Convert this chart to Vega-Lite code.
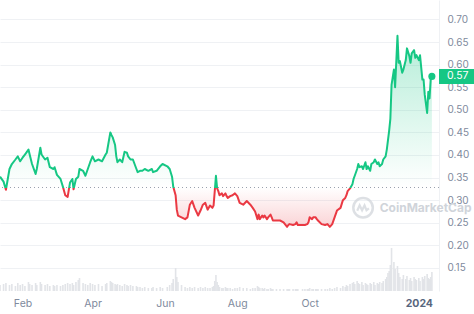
{
  "$schema": "https://vega.github.io/schema/vega-lite/v6.json",
  "width": 439,
  "height": 291,
  "autosize": "none",
  "padding": {"left": 0, "top": 0, "right": 35, "bottom": 23},
  "background": "white",
  "config": {"view": {"stroke": null}, "font": "Inter", "axis": {"labelFont": "Inter"}},
  "datasets": {
    "prices": [
      {"date": "2023-01-13", "price": 0.352, "vol": 6},
      {"date": "2023-01-16", "price": 0.341, "vol": 7},
      {"date": "2023-01-18", "price": 0.323, "vol": 8},
      {"date": "2023-01-21", "price": 0.369, "vol": 6},
      {"date": "2023-01-23", "price": 0.380, "vol": 7},
      {"date": "2023-01-26", "price": 0.390, "vol": 5},
      {"date": "2023-01-28", "price": 0.397, "vol": 8},
      {"date": "2023-01-30", "price": 0.386, "vol": 6},
      {"date": "2023-02-01", "price": 0.394, "vol": 7},
      {"date": "2023-02-03", "price": 0.401, "vol": 5},
      {"date": "2023-02-06", "price": 0.412, "vol": 9},
      {"date": "2023-02-07", "price": 0.401, "vol": 7},
      {"date": "2023-02-09", "price": 0.380, "vol": 6},
      {"date": "2023-02-12", "price": 0.358, "vol": 8},
      {"date": "2023-02-13", "price": 0.369, "vol": 6},
      {"date": "2023-02-16", "price": 0.416, "vol": 9},
      {"date": "2023-02-17", "price": 0.401, "vol": 7},
      {"date": "2023-02-20", "price": 0.390, "vol": 6},
      {"date": "2023-02-22", "price": 0.394, "vol": 7},
      {"date": "2023-02-24", "price": 0.373, "vol": 5},
      {"date": "2023-02-27", "price": 0.369, "vol": 6},
      {"date": "2023-02-28", "price": 0.373, "vol": 5},
      {"date": "2023-03-02", "price": 0.356, "vol": 6},
      {"date": "2023-03-05", "price": 0.347, "vol": 5},
      {"date": "2023-03-07", "price": 0.330, "vol": 6},
      {"date": "2023-03-09", "price": 0.311, "vol": 7},
      {"date": "2023-03-11", "price": 0.307, "vol": 8},
      {"date": "2023-03-13", "price": 0.339, "vol": 7},
      {"date": "2023-03-15", "price": 0.347, "vol": 8},
      {"date": "2023-03-16", "price": 0.324, "vol": 6},
      {"date": "2023-03-18", "price": 0.347, "vol": 9},
      {"date": "2023-03-20", "price": 0.352, "vol": 11},
      {"date": "2023-03-21", "price": 0.369, "vol": 13},
      {"date": "2023-03-24", "price": 0.365, "vol": 8},
      {"date": "2023-03-26", "price": 0.354, "vol": 7},
      {"date": "2023-03-28", "price": 0.369, "vol": 6},
      {"date": "2023-03-30", "price": 0.384, "vol": 8},
      {"date": "2023-04-01", "price": 0.397, "vol": 7},
      {"date": "2023-04-03", "price": 0.386, "vol": 6},
      {"date": "2023-04-06", "price": 0.390, "vol": 7},
      {"date": "2023-04-09", "price": 0.386, "vol": 5},
      {"date": "2023-04-12", "price": 0.401, "vol": 7},
      {"date": "2023-04-13", "price": 0.405, "vol": 8},
      {"date": "2023-04-16", "price": 0.450, "vol": 10},
      {"date": "2023-04-17", "price": 0.444, "vol": 9},
      {"date": "2023-04-18", "price": 0.439, "vol": 8},
      {"date": "2023-04-20", "price": 0.422, "vol": 7},
      {"date": "2023-04-21", "price": 0.397, "vol": 6},
      {"date": "2023-04-22", "price": 0.384, "vol": 7},
      {"date": "2023-04-24", "price": 0.390, "vol": 6},
      {"date": "2023-04-26", "price": 0.384, "vol": 5},
      {"date": "2023-04-28", "price": 0.407, "vol": 7},
      {"date": "2023-04-30", "price": 0.405, "vol": 6},
      {"date": "2023-05-01", "price": 0.397, "vol": 5},
      {"date": "2023-05-03", "price": 0.390, "vol": 6},
      {"date": "2023-05-05", "price": 0.390, "vol": 5},
      {"date": "2023-05-08", "price": 0.369, "vol": 5},
      {"date": "2023-05-09", "price": 0.362, "vol": 4},
      {"date": "2023-05-11", "price": 0.365, "vol": 4},
      {"date": "2023-05-13", "price": 0.365, "vol": 3},
      {"date": "2023-05-15", "price": 0.369, "vol": 4},
      {"date": "2023-05-18", "price": 0.365, "vol": 3},
      {"date": "2023-05-21", "price": 0.369, "vol": 3},
      {"date": "2023-05-22", "price": 0.362, "vol": 4},
      {"date": "2023-05-25", "price": 0.365, "vol": 3},
      {"date": "2023-05-28", "price": 0.375, "vol": 4},
      {"date": "2023-05-30", "price": 0.380, "vol": 3},
      {"date": "2023-06-03", "price": 0.375, "vol": 4},
      {"date": "2023-06-05", "price": 0.369, "vol": 6},
      {"date": "2023-06-07", "price": 0.352, "vol": 8},
      {"date": "2023-06-08", "price": 0.330, "vol": 12},
      {"date": "2023-06-10", "price": 0.311, "vol": 23},
      {"date": "2023-06-11", "price": 0.279, "vol": 14},
      {"date": "2023-06-12", "price": 0.266, "vol": 9},
      {"date": "2023-06-15", "price": 0.262, "vol": 6},
      {"date": "2023-06-18", "price": 0.258, "vol": 4},
      {"date": "2023-06-20", "price": 0.262, "vol": 3},
      {"date": "2023-06-22", "price": 0.290, "vol": 4},
      {"date": "2023-06-24", "price": 0.298, "vol": 3},
      {"date": "2023-06-26", "price": 0.283, "vol": 4},
      {"date": "2023-06-29", "price": 0.266, "vol": 3},
      {"date": "2023-07-01", "price": 0.277, "vol": 4},
      {"date": "2023-07-03", "price": 0.290, "vol": 3},
      {"date": "2023-07-05", "price": 0.294, "vol": 4},
      {"date": "2023-07-07", "price": 0.279, "vol": 3},
      {"date": "2023-07-09", "price": 0.288, "vol": 3},
      {"date": "2023-07-11", "price": 0.283, "vol": 4},
      {"date": "2023-07-12", "price": 0.288, "vol": 5},
      {"date": "2023-07-13", "price": 0.320, "vol": 10},
      {"date": "2023-07-14", "price": 0.354, "vol": 16},
      {"date": "2023-07-15", "price": 0.326, "vol": 9},
      {"date": "2023-07-16", "price": 0.320, "vol": 6},
      {"date": "2023-07-17", "price": 0.311, "vol": 4},
      {"date": "2023-07-19", "price": 0.315, "vol": 3},
      {"date": "2023-07-20", "price": 0.309, "vol": 3},
      {"date": "2023-07-22", "price": 0.315, "vol": 4},
      {"date": "2023-07-23", "price": 0.309, "vol": 3},
      {"date": "2023-07-24", "price": 0.305, "vol": 3},
      {"date": "2023-07-26", "price": 0.309, "vol": 3},
      {"date": "2023-07-28", "price": 0.311, "vol": 2},
      {"date": "2023-07-30", "price": 0.315, "vol": 3},
      {"date": "2023-08-01", "price": 0.309, "vol": 3},
      {"date": "2023-08-03", "price": 0.294, "vol": 4},
      {"date": "2023-08-06", "price": 0.290, "vol": 3},
      {"date": "2023-08-09", "price": 0.298, "vol": 3},
      {"date": "2023-08-12", "price": 0.290, "vol": 2},
      {"date": "2023-08-14", "price": 0.283, "vol": 3},
      {"date": "2023-08-16", "price": 0.275, "vol": 3},
      {"date": "2023-08-18", "price": 0.258, "vol": 5},
      {"date": "2023-08-19", "price": 0.268, "vol": 4},
      {"date": "2023-08-20", "price": 0.258, "vol": 3},
      {"date": "2023-08-22", "price": 0.266, "vol": 3},
      {"date": "2023-08-23", "price": 0.262, "vol": 2},
      {"date": "2023-08-24", "price": 0.266, "vol": 3},
      {"date": "2023-08-26", "price": 0.258, "vol": 2},
      {"date": "2023-08-27", "price": 0.262, "vol": 2},
      {"date": "2023-08-29", "price": 0.268, "vol": 3},
      {"date": "2023-08-30", "price": 0.262, "vol": 2},
      {"date": "2023-08-31", "price": 0.255, "vol": 2},
      {"date": "2023-09-03", "price": 0.255, "vol": 2},
      {"date": "2023-09-06", "price": 0.255, "vol": 2},
      {"date": "2023-09-09", "price": 0.251, "vol": 2},
      {"date": "2023-09-12", "price": 0.241, "vol": 2},
      {"date": "2023-09-13", "price": 0.245, "vol": 2},
      {"date": "2023-09-14", "price": 0.247, "vol": 2},
      {"date": "2023-09-17", "price": 0.245, "vol": 2},
      {"date": "2023-09-19", "price": 0.247, "vol": 2},
      {"date": "2023-09-20", "price": 0.251, "vol": 2},
      {"date": "2023-09-21", "price": 0.245, "vol": 2},
      {"date": "2023-09-25", "price": 0.245, "vol": 2},
      {"date": "2023-09-27", "price": 0.245, "vol": 2},
      {"date": "2023-09-29", "price": 0.247, "vol": 2},
      {"date": "2023-09-30", "price": 0.251, "vol": 2},
      {"date": "2023-10-01", "price": 0.262, "vol": 3},
      {"date": "2023-10-03", "price": 0.258, "vol": 2},
      {"date": "2023-10-04", "price": 0.262, "vol": 2},
      {"date": "2023-10-06", "price": 0.262, "vol": 2},
      {"date": "2023-10-07", "price": 0.258, "vol": 2},
      {"date": "2023-10-08", "price": 0.255, "vol": 2},
      {"date": "2023-10-11", "price": 0.247, "vol": 2},
      {"date": "2023-10-14", "price": 0.245, "vol": 2},
      {"date": "2023-10-16", "price": 0.247, "vol": 2},
      {"date": "2023-10-18", "price": 0.241, "vol": 3},
      {"date": "2023-10-20", "price": 0.247, "vol": 2},
      {"date": "2023-10-22", "price": 0.262, "vol": 3},
      {"date": "2023-10-24", "price": 0.277, "vol": 4},
      {"date": "2023-10-27", "price": 0.283, "vol": 3},
      {"date": "2023-10-29", "price": 0.300, "vol": 5},
      {"date": "2023-10-31", "price": 0.305, "vol": 4},
      {"date": "2023-11-01", "price": 0.311, "vol": 6},
      {"date": "2023-11-02", "price": 0.320, "vol": 5},
      {"date": "2023-11-04", "price": 0.326, "vol": 7},
      {"date": "2023-11-06", "price": 0.335, "vol": 8},
      {"date": "2023-11-07", "price": 0.347, "vol": 9},
      {"date": "2023-11-08", "price": 0.354, "vol": 7},
      {"date": "2023-11-10", "price": 0.369, "vol": 10},
      {"date": "2023-11-11", "price": 0.380, "vol": 8},
      {"date": "2023-11-12", "price": 0.373, "vol": 7},
      {"date": "2023-11-14", "price": 0.375, "vol": 9},
      {"date": "2023-11-15", "price": 0.369, "vol": 6},
      {"date": "2023-11-17", "price": 0.384, "vol": 8},
      {"date": "2023-11-18", "price": 0.369, "vol": 7},
      {"date": "2023-11-19", "price": 0.375, "vol": 6},
      {"date": "2023-11-21", "price": 0.365, "vol": 8},
      {"date": "2023-11-22", "price": 0.380, "vol": 7},
      {"date": "2023-11-24", "price": 0.384, "vol": 9},
      {"date": "2023-11-25", "price": 0.390, "vol": 6},
      {"date": "2023-11-27", "price": 0.380, "vol": 8},
      {"date": "2023-11-28", "price": 0.384, "vol": 7},
      {"date": "2023-11-29", "price": 0.375, "vol": 9},
      {"date": "2023-12-01", "price": 0.380, "vol": 8},
      {"date": "2023-12-02", "price": 0.390, "vol": 10},
      {"date": "2023-12-04", "price": 0.397, "vol": 12},
      {"date": "2023-12-05", "price": 0.412, "vol": 14},
      {"date": "2023-12-06", "price": 0.433, "vol": 18},
      {"date": "2023-12-07", "price": 0.454, "vol": 20},
      {"date": "2023-12-08", "price": 0.480, "vol": 26},
      {"date": "2023-12-09", "price": 0.555, "vol": 43},
      {"date": "2023-12-11", "price": 0.589, "vol": 29},
      {"date": "2023-12-12", "price": 0.550, "vol": 22},
      {"date": "2023-12-14", "price": 0.664, "vol": 25},
      {"date": "2023-12-15", "price": 0.604, "vol": 18},
      {"date": "2023-12-16", "price": 0.608, "vol": 14},
      {"date": "2023-12-18", "price": 0.582, "vol": 12},
      {"date": "2023-12-19", "price": 0.589, "vol": 16},
      {"date": "2023-12-21", "price": 0.610, "vol": 12},
      {"date": "2023-12-22", "price": 0.636, "vol": 15},
      {"date": "2023-12-24", "price": 0.619, "vol": 11},
      {"date": "2023-12-25", "price": 0.604, "vol": 13},
      {"date": "2023-12-26", "price": 0.625, "vol": 10},
      {"date": "2023-12-28", "price": 0.632, "vol": 14},
      {"date": "2023-12-29", "price": 0.615, "vol": 12},
      {"date": "2023-12-30", "price": 0.621, "vol": 11},
      {"date": "2024-01-01", "price": 0.610, "vol": 13},
      {"date": "2024-01-02", "price": 0.621, "vol": 10},
      {"date": "2024-01-04", "price": 0.567, "vol": 14},
      {"date": "2024-01-05", "price": 0.567, "vol": 12},
      {"date": "2024-01-06", "price": 0.533, "vol": 15},
      {"date": "2024-01-08", "price": 0.493, "vol": 17},
      {"date": "2024-01-09", "price": 0.540, "vol": 13},
      {"date": "2024-01-10", "price": 0.525, "vol": 12},
      {"date": "2024-01-11", "price": 0.567, "vol": 14},
      {"date": "2024-01-12", "price": 0.574, "vol": 19}
    ],
    "last": [{"date": "2024-01-12", "price": 0.574}]
  },
  "data": {"name": "prices"},
  "layer": [
    {
      "mark": {"type": "bar", "color": "#e2e4e8", "width": 1.6},
      "encoding": {
        "x": {
          "field": "date", "type": "temporal",
          "scale": {"type": "utc", "padding": 0, "domain": [{"year": 2023, "month": 1, "date": 13, "utc": true}, {"year": 2024, "month": 1, "date": 18, "utc": true}]},
          "axis": {
            "values": [
              {"year": 2023, "month": 2, "date": 1, "utc": true},
              {"year": 2023, "month": 4, "date": 1, "utc": true},
              {"year": 2023, "month": 6, "date": 1, "utc": true},
              {"year": 2023, "month": 8, "date": 1, "utc": true},
              {"year": 2023, "month": 10, "date": 1, "utc": true},
              {"year": 2024, "month": 1, "date": 1, "utc": true}
            ],
            "labelExpr": "utcmonth(datum.value)==0 ? utcFormat(datum.value,'%Y') : utcFormat(datum.value,'%b')",
            "labelFontWeight": {"condition": {"test": "utcmonth(datum.value)==0", "value": "bold"}, "value": "normal"},
            "labelColor": {"condition": {"test": "utcmonth(datum.value)==0", "value": "#58667e"}, "value": "#808a9d"},
            "domain": false, "ticks": false, "grid": false, "labelPadding": 7,
            "labelFontSize": 10.5, "title": null, "labelFlush": false, "labelOverlap": false
          }
        },
        "y": {"field": "vol", "type": "quantitative", "scale": {"domain": [0, 291], "nice": false}, "axis": null}
      }
    },
    {
      "encoding": {
        "y": {
          "field": "price", "type": "quantitative",
          "scale": {"domain": [0.110, 0.732], "nice": false, "zero": false},
          "axis": {
            "orient": "right", "values": [0.15, 0.2, 0.25, 0.3, 0.35, 0.4, 0.45, 0.5, 0.55, 0.6, 0.65, 0.7],
            "format": ".2f", "grid": true, "gridColor": "#eff1f4", "domain": true, "domainColor": "#eff1f4",
            "ticks": false, "labelPadding": 8, "labelColor": "#808a9d", "labelFontSize": 10, "title": null, "labelFlush": false
          }
        }
      },
      "layer": [
        {
          "mark": {"type": "area", "line": false,
            "fill": {"gradient": "linear", "x1": 0, "y1": 0, "x2": 0, "y2": 1, "stops": [
              {"offset": 0, "color": "rgba(22,199,132,0.32)"},
              {"offset": 0.7943, "color": "rgba(22,199,132,0.0)"},
              {"offset": 0.7943, "color": "rgba(234,57,67,0.0)"},
              {"offset": 1, "color": "rgba(234,57,67,0.22)"}
            ]}},
          "encoding": {
            "x": {"field": "date", "type": "temporal"},
            "y2": {"datum": 0.328}
          }
        },
        {
          "data": {"name": "last"},
          "mark": {"type": "rule", "color": "#9aa1ad", "strokeDash": [1, 3], "strokeWidth": 1},
          "encoding": {"y": {"datum": 0.328}}
        },
        {
          "data": {"name": "last"},
          "mark": {"type": "point", "shape": "circle", "filled": false, "size": 380, "strokeWidth": 2.5, "color": "#d0d4da"},
          "encoding": {
            "x": {"datum": {"year": 2023, "month": 11, "date": 15, "utc": true}, "type": "temporal"},
            "y": {"datum": 0.283}
          }
        },
        {
          "data": {"name": "last"},
          "mark": {"type": "point", "shape": "M-0.6,0.3 L-0.35,-0.25 L-0.1,0.25 L0.15,-0.25 L0.35,0.25 L0.6,0.05", "filled": false, "size": 380, "strokeWidth": 2.2, "color": "#d0d4da"},
          "encoding": {
            "x": {"datum": {"year": 2023, "month": 11, "date": 15, "utc": true}, "type": "temporal"},
            "y": {"datum": 0.283}
          }
        },
        {
          "data": {"name": "last"},
          "mark": {"type": "text", "text": "CoinMarketCap", "font": "Inter", "fontWeight": "bold", "fontSize": 12, "color": "#d0d4da", "align": "left", "baseline": "middle"},
          "encoding": {
            "x": {"datum": {"year": 2023, "month": 11, "date": 29, "utc": true}, "type": "temporal"},
            "y": {"datum": 0.283}
          }
        },
        {
          "mark": {"type": "line", "strokeWidth": 2, "strokeJoin": "round",
            "color": {"gradient": "linear", "x1": 0, "y1": 0, "x2": 0, "y2": 1, "stops": [
              {"offset": 0, "color": "#16c784"},
              {"offset": 0.7943, "color": "#16c784"},
              {"offset": 0.7943, "color": "#ea3943"},
              {"offset": 1, "color": "#ea3943"}
            ]}},
          "encoding": {"x": {"field": "date", "type": "temporal"}}
        },
        {
          "data": {"name": "last"},
          "mark": {"type": "point", "filled": true, "size": 50, "color": "#16c784", "opacity": 1},
          "encoding": {"x": {"field": "date", "type": "temporal"}}
        },
        {
          "data": {"name": "last"},
          "mark": {"type": "bar", "color": "#16c784", "size": 15},
          "encoding": {
            "x": {"datum": {"year": 2024, "month": 1, "date": 18, "utc": true}, "type": "temporal"},
            "x2": {"datum": {"year": 2024, "month": 2, "date": 18, "utc": true}}
          }
        },
        {
          "data": {"name": "last"},
          "mark": {"type": "text", "color": "white", "fontSize": 10.5, "align": "left", "baseline": "middle", "dx": 8},
          "encoding": {
            "x": {"datum": {"year": 2024, "month": 1, "date": 18, "utc": true}, "type": "temporal"},
            "text": {"field": "price", "type": "quantitative", "format": ".2f"}
          }
        }
      ]
    }
  ],
  "resolve": {"scale": {"y": "independent"}}
}
